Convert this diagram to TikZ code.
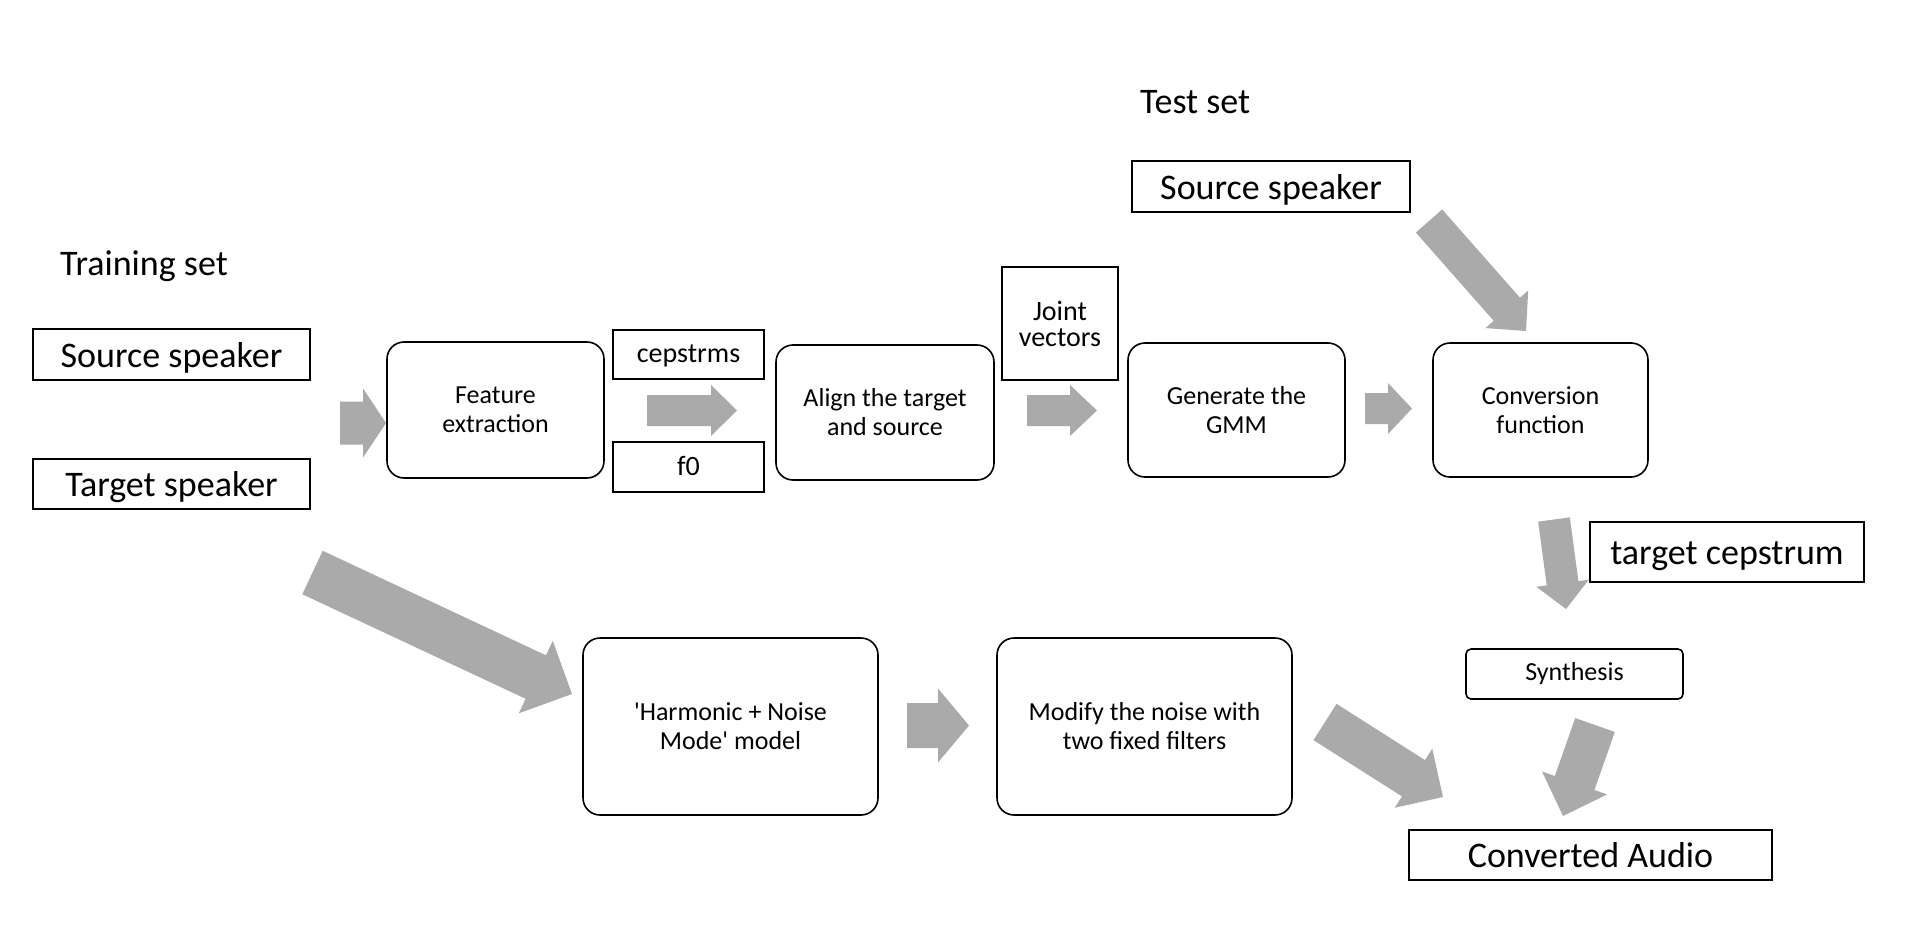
\documentclass[tikz,border=0pt]{standalone}
\usepackage{fontspec}
\setmainfont{Carlito}
\usetikzlibrary{calc}
\definecolor{arrowgray}{RGB}{170,170,170}
\newcommand\blockarr[5]{% tail, tip, half shaft, half head, head length
  \coordinate (ba-h) at ($(#2)!#5!(#1)$);
  \fill[arrowgray] ($(#1)!#3!90:(#2)$) -- ($(ba-h)!#3!90:(#2)$) -- ($(ba-h)!#4!90:(#2)$) -- (#2)
    -- ($(ba-h)!#4!-90:(#2)$) -- ($(ba-h)!#3!-90:(#2)$) -- ($(#1)!#3!-90:(#2)$) -- cycle;}
\tikzset{
  bigtxt/.style={font=\fontsize{36}{40}\selectfont},
  rectbox/.style={draw, line width=1.6pt, inner sep=0pt, align=center, text height=32pt, text depth=7pt, font=\fontsize{36}{40}\selectfont},
  smallbox/.style={draw, line width=1.6pt, inner sep=0pt, align=center, text height=22pt, text depth=6pt, font=\fontsize{28}{26}\selectfont},
  jointbox/.style={draw, line width=1.6pt, inner sep=0pt, align=center, font=\fontsize{28}{26}\selectfont},
  procbox/.style={draw, line width=1.6pt, rounded corners=17pt, inner sep=0pt, align=center, font=\fontsize{26}{29}\selectfont},
}
\begin{document}
\begin{tikzpicture}[x=1pt,y=-1pt]
\useasboundingbox (0,0) rectangle (1922,931);
% titles
\node[bigtxt, anchor=base west, inner sep=0pt] (train) at (60,275) {Training set};
\node[bigtxt, anchor=base west, inner sep=0pt] (test) at (1140,114) {Test set};
% boxes
\node[rectbox, minimum width=277pt, minimum height=51pt] (srcL) at (171.5,354.5) {Source speaker};
\node[rectbox, minimum width=277pt, minimum height=50pt] (tgtL) at (171.5,484) {Target speaker};
\node[procbox, minimum width=217pt, minimum height=136pt] (feat) at (495.5,410) {Feature\\extraction};
\node[smallbox, minimum width=151pt, minimum height=49pt] (ceps) at (688.5,354.5) {cepstrms};
\node[smallbox, minimum width=151pt, minimum height=50pt] (fzero) at (688.5,467) {f0};
\node[procbox, minimum width=218pt, minimum height=135pt] (align) at (885,412.5) {Align the target\\and source};
\node[jointbox, minimum width=116pt, minimum height=113pt] (joint) at (1060,323.5) {Joint\\vectors};
\node[procbox, minimum width=217pt, minimum height=134pt] (gmm) at (1236.5,410) {Generate the\\GMM};
\node[procbox, minimum width=215pt, minimum height=134pt] (conv) at (1540.5,410) {Conversion\\function};
\node[rectbox, minimum width=278pt, minimum height=51pt] (srcT) at (1271,186.5) {Source speaker};
\node[rectbox, minimum width=274pt, minimum height=60pt] (tceps) at (1727,552) {target cepstrum};
\node[procbox, rounded corners=5pt, minimum width=217pt, minimum height=50pt] (synth) at (1574.5,674) {Synthesis};
\node[rectbox, minimum width=363pt, minimum height=50pt] (audio) at (1590.5,855) {Converted Audio};
\node[procbox, minimum width=295pt, minimum height=177pt] (harm) at (730.5,726.5) {\textquotesingle Harmonic + Noise\\Mode\textquotesingle{} model};
\node[procbox, minimum width=295pt, minimum height=177pt] (modify) at (1144.5,726.5) {Modify the noise with\\two fixed filters};
% arrow end points
\coordinate (a1t) at (340,423); \coordinate (a1h) at (386,423);
\coordinate (a2t) at (647,410.5); \coordinate (a2h) at (737,410.5);
\coordinate (a3t) at (1027,410.5); \coordinate (a3h) at (1097,410.5);
\coordinate (a4t) at (1365,408.5); \coordinate (a4h) at (1412,408.5);
\coordinate (a5t) at (907,725.5); \coordinate (a5h) at (969,725.5);
\coordinate (a6t) at (312.5,572.5); \coordinate (a6h) at (572,694);
\coordinate (a7t) at (1429,221); \coordinate (a7h) at (1526,331);
\coordinate (a8t) at (1554,519.5); \coordinate (a8h) at (1566,609);
\coordinate (a9t) at (1595,725); \coordinate (a9h) at (1563,816);
\coordinate (a10t) at (1325,722); \coordinate (a10h) at (1443,797);
% block arrows
\blockarr{a1t}{a1h}{21.5pt}{34.5pt}{23pt}
\blockarr{a2t}{a2h}{15.5pt}{25.5pt}{26pt}
\blockarr{a3t}{a3h}{15.5pt}{25.5pt}{27pt}
\blockarr{a4t}{a4h}{15.5pt}{25.5pt}{24pt}
\blockarr{a5t}{a5h}{22.5pt}{37pt}{31pt}
\blockarr{a6t}{a6h}{24pt}{40pt}{40pt}
\blockarr{a7t}{a7h}{17.5pt}{28.5pt}{29pt}
\blockarr{a8t}{a8h}{16pt}{26.5pt}{26pt}
\blockarr{a9t}{a9h}{21pt}{34.5pt}{35pt}
\blockarr{a10t}{a10h}{21.5pt}{35pt}{35pt}
\end{tikzpicture}
\end{document}
